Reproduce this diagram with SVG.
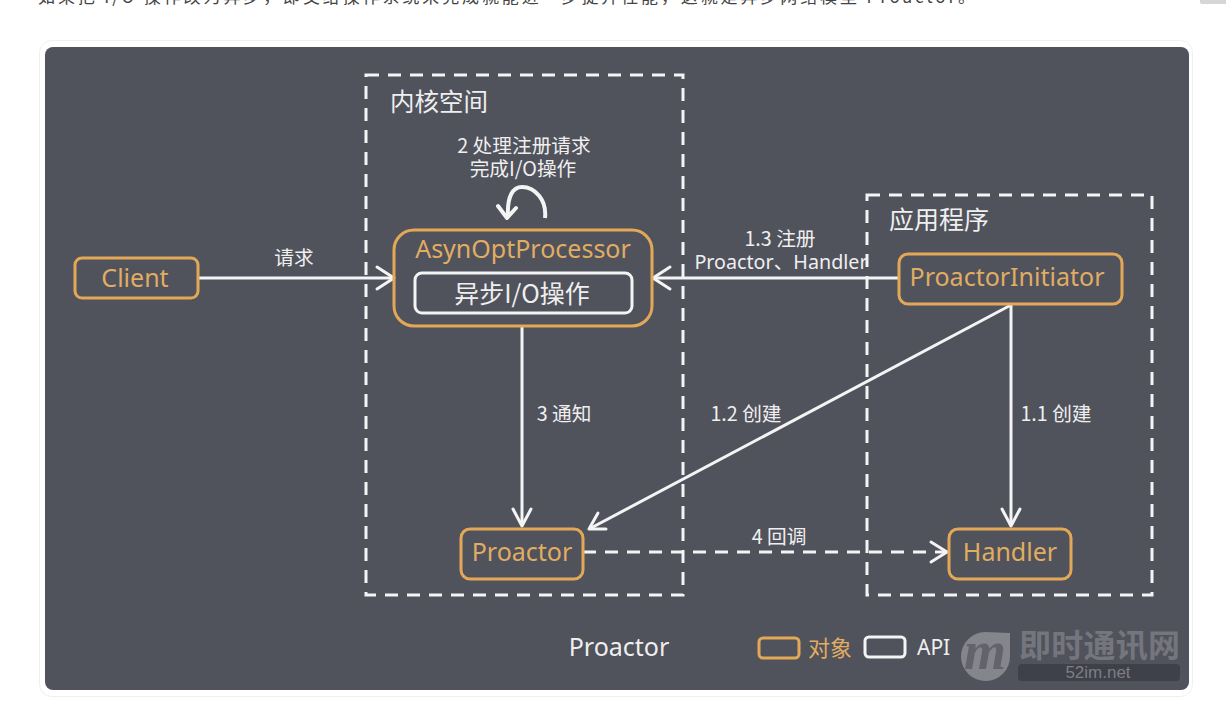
<svg xmlns="http://www.w3.org/2000/svg" width="1226" height="703" viewBox="0 0 1226 703">
<style>
text{font-family:"Noto Sans","Noto Sans CJK SC","DejaVu Sans",sans-serif;fill:#efefef}
.cn{font-family:"Noto Sans CJK SC","Noto Sans",sans-serif}
.obj{fill:#e0ad62}
.o{fill:none;stroke:#e3a857;stroke-width:3}
.w{fill:none;stroke:#f4f4f4;stroke-width:3}
.b{fill:none;stroke:#f4f4f4;stroke-width:3;stroke-dasharray:13 9}
.c{fill:none;stroke:#f4f4f4;stroke-width:3}
.ah{fill:none;stroke:#f4f4f4;stroke-width:3;stroke-linecap:round;stroke-linejoin:round}
.m{font-size:19.700px;text-anchor:middle}
</style>
<rect width="1226" height="703" fill="#fff"/>
<text class="cn" x="38" y="3" font-size="17" style="fill:#444" textLength="937">如果把 I/O 操作改为异步，即交给操作系统来完成就能进一步提升性能，这就是异步网络模型 Proactor。</text>
<rect x="1200" y="-6" width="30" height="10" rx="2" fill="#d6d6d6"/>
<rect x="39.500" y="40.500" width="1153" height="656" rx="12" fill="#fff" stroke="#f0f0f0"/>
<rect x="45" y="47" width="1144" height="643" rx="8" fill="#50525c"/>

<g id="kernel-space">
<rect class="b" x="366" y="75" width="317" height="520"/>
<text class="cn" x="390" y="111" font-size="24.500">内核空间</text>
</g>
<g id="app">
<rect class="b" x="867" y="195" width="285" height="400"/>
<text class="cn" x="889" y="229" font-size="25">应用程序</text>
</g>

<g id="connectors">
<path class="c" d="M198 278H392"/><path class="ah" d="M377 267L394 278L377 289"/>
<path class="c" d="M899 278H655"/><path class="ah" d="M670 267L653 278L670 289"/>
<path class="c" d="M522 326V524"/><path class="ah" d="M513 509L522 526L531 509"/>
<path class="c" d="M1011 305V524"/><path class="ah" d="M1002 509L1011 526L1020 509"/>
<path class="c" d="M1011 305L591 528"/><path class="ah" d="M598 513L589 529L606 529"/>
<path class="b" d="M583 552H945"/><path class="ah" d="M931 542L947 552L931 562"/>
<path class="c" d="M545 218C547 200 535 187 522 187C513 187 507 196 508 216" style="stroke-width:4"/><path class="ah" d="M498 206L507 218L516 208" style="stroke-width:4"/>
</g>

<g id="client"><rect class="o" x="75" y="258" width="123" height="40" rx="7"/><text class="obj" x="135" y="287" font-size="25" text-anchor="middle">Client</text></g>
<g id="asyn"><rect class="o" x="394" y="230" width="258" height="96" rx="20"/><text class="obj" x="523" y="258" font-size="25" text-anchor="middle">AsynOptProcessor</text></g>
<g id="async-io"><rect class="w" x="415" y="273" width="217" height="40" rx="7"/><text class="cn" x="522" y="303" font-size="25" text-anchor="middle">异步I/O操作</text></g>
<g id="initiator"><rect class="o" x="899" y="254" width="223" height="50" rx="9"/><text class="obj" x="1007" y="286" font-size="25" text-anchor="middle">ProactorInitiator</text></g>
<g id="proactor"><rect class="o" x="461" y="529" width="122" height="50" rx="9"/><text class="obj" x="522" y="561" font-size="25" text-anchor="middle">Proactor</text></g>
<g id="handler"><rect class="o" x="949" y="529" width="122" height="50" rx="9"/><text class="obj" x="1010" y="561" font-size="25" text-anchor="middle">Handler</text></g>

<g id="labels">
<text class="m cn" x="524" y="153">2 处理注册请求<tspan x="523" dy="23">完成I/O操作</tspan></text>
<text class="m cn" x="294" y="265">请求</text>
<text class="m cn" x="780" y="246">1.3 注册<tspan class="m" x="781" dy="23" style="font-family:'Noto Sans','Noto Sans CJK SC',sans-serif">Proactor、Handler</tspan></text>
<text class="m cn" x="564" y="421">3 通知</text>
<text class="m cn" x="746" y="421">1.2 创建</text>
<text class="m cn" x="1056" y="421">1.1 创建</text>
<text class="m cn" x="779" y="544">4 回调</text>
</g>

<g id="legend">
<text x="619" y="656" font-size="25" text-anchor="middle">Proactor</text>
<rect class="o" x="759" y="638" width="40" height="20" rx="4"/>
<text class="cn obj" x="808" y="656" font-size="22">对象</text>
<rect class="w" x="865" y="637" width="40" height="20" rx="4"/>
<text x="917" y="655" font-size="21">API</text>
</g>

<g id="watermark">
<path d="M1010 633V656A24.500 24.500 0 1 1 985 632Z" fill="#85868c"/>
<text x="985" y="669" font-size="54" font-style="italic" font-weight="700" text-anchor="middle" style="font-family:'Liberation Serif',serif;fill:#63646b">m</text>
<text class="cn" x="1019" y="657" font-size="32" font-weight="700" style="fill:#75767d" textLength="161">即时通讯网</text>
<rect x="1018" y="664" width="162" height="17" rx="4" fill="#3f4049"/>
<text x="1098" y="678" font-size="17" text-anchor="middle" style="font-family:'Liberation Sans',sans-serif;fill:#7d7e85">52im.net</text>
</g>
</svg>
